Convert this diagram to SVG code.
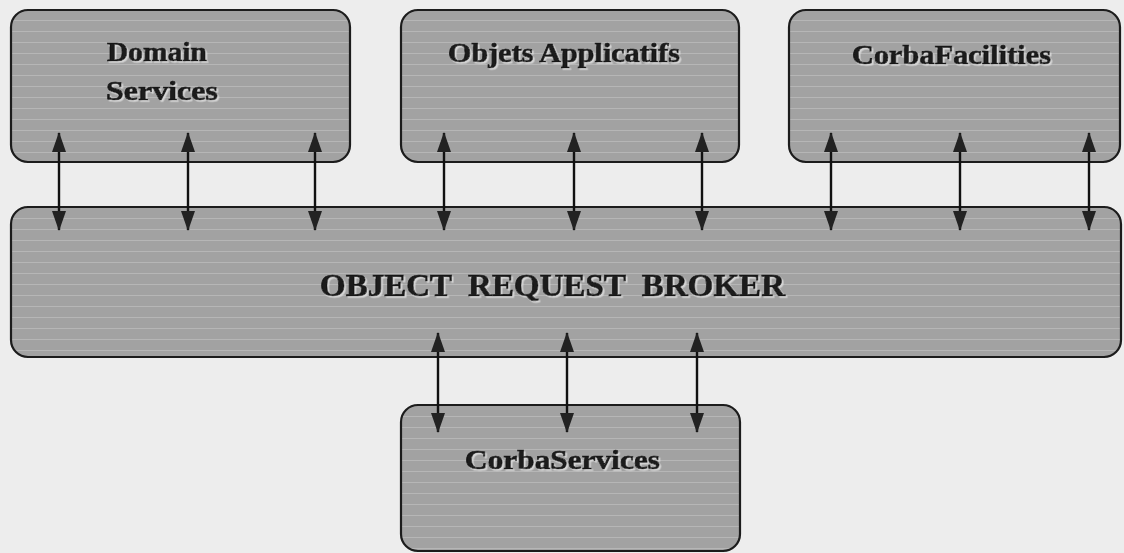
<svg xmlns="http://www.w3.org/2000/svg" width="1124" height="553" viewBox="0 0 1124 553">
  <style>
    .box { fill: #a2a2a2; stroke: #1c1c1c; stroke-width: 2.2; }
    .lbl { font-family: "Liberation Serif", "Times New Roman", serif; font-weight: bold; fill: #1a1a1a; stroke: #1a1a1a; stroke-width: 0.7; filter: url(#emboss); }
    .wire { stroke: #111; stroke-width: 2.4; fill: none; marker-start: url(#head); marker-end: url(#head); }
  </style>
  <defs>
    <!-- light offset halo that gives the labels their raised look -->
    <filter id="emboss" x="-10%" y="-30%" width="120%" height="160%">
      <feDropShadow dx="1.6" dy="1.6" stdDeviation="0.3" flood-color="#dcdcdc" flood-opacity="0.9"/>
    </filter>
    <marker id="head" viewBox="0 0 20 16" refX="19" refY="8" markerWidth="20" markerHeight="16" markerUnits="userSpaceOnUse" orient="auto-start-reverse">
      <path d="M0,1 L20,8 L0,15 Z" fill="#222"/>
    </marker>
    <!-- faint horizontal scan texture inside the shapes -->
    <pattern id="scan" width="8" height="11" patternUnits="userSpaceOnUse">
      <rect width="8" height="11" fill="#a2a2a2"/>
      <rect y="9" width="8" height="1" fill="#b6b6b6"/>
    </pattern>
  </defs>

  <rect width="1124" height="553" fill="#ededed"/>

  <g id="domain-services">
    <rect class="box" x="11" y="10" width="339" height="152" rx="17" style="fill:url(#scan)"/>
    <text class="lbl" x="107" y="61" font-size="28" textLength="100" lengthAdjust="spacingAndGlyphs">Domain</text>
    <text class="lbl" x="106" y="100" font-size="28" textLength="112" lengthAdjust="spacingAndGlyphs">Services</text>
  </g>

  <g id="objets-applicatifs">
    <rect class="box" x="401" y="10" width="338" height="152" rx="17" style="fill:url(#scan)"/>
    <text class="lbl" x="448" y="62" font-size="28" textLength="232" lengthAdjust="spacingAndGlyphs">Objets Applicatifs</text>
  </g>

  <g id="corba-facilities">
    <rect class="box" x="789" y="10" width="331" height="152" rx="17" style="fill:url(#scan)"/>
    <text class="lbl" x="852" y="64" font-size="28" textLength="199" lengthAdjust="spacingAndGlyphs">CorbaFacilities</text>
  </g>

  <g id="object-request-broker">
    <rect class="box" x="11" y="207" width="1110" height="150" rx="17" style="fill:url(#scan)"/>
    <text class="lbl" x="320" y="296" font-size="31" textLength="465" lengthAdjust="spacingAndGlyphs" xml:space="preserve">OBJECT  REQUEST  BROKER</text>
  </g>

  <g id="corba-services">
    <rect class="box" x="401" y="405" width="339" height="146" rx="17" style="fill:url(#scan)"/>
    <text class="lbl" x="465" y="469" font-size="28" textLength="195" lengthAdjust="spacingAndGlyphs">CorbaServices</text>
  </g>

  <g id="connectors">
    <line class="wire" x1="59" y1="133" x2="59" y2="230"/>
    <line class="wire" x1="188" y1="133" x2="188" y2="230"/>
    <line class="wire" x1="315" y1="133" x2="315" y2="230"/>
    <line class="wire" x1="444" y1="133" x2="444" y2="230"/>
    <line class="wire" x1="574" y1="133" x2="574" y2="230"/>
    <line class="wire" x1="702" y1="133" x2="702" y2="230"/>
    <line class="wire" x1="831" y1="133" x2="831" y2="230"/>
    <line class="wire" x1="960" y1="133" x2="960" y2="230"/>
    <line class="wire" x1="1089" y1="133" x2="1089" y2="230"/>
    <line class="wire" x1="438" y1="333" x2="438" y2="432"/>
    <line class="wire" x1="567" y1="333" x2="567" y2="432"/>
    <line class="wire" x1="697" y1="333" x2="697" y2="432"/>
  </g>
</svg>
